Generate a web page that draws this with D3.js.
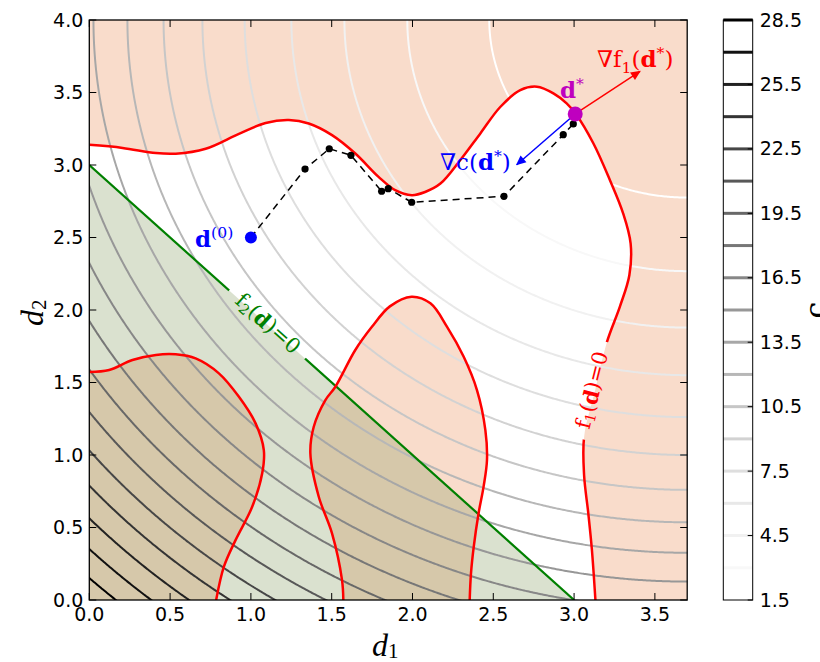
<!DOCTYPE html>
<html><head><meta charset="utf-8">
<script src="https://cdn.jsdelivr.net/npm/d3@7"></script>
<style>body{margin:0;background:#fff}</style>
</head><body>
<svg id="c" width="820" height="662"></svg>
<script>
// ---------- data ----------
const xTicks = [0.0, 0.5, 1.0, 1.5, 2.0, 2.5, 3.0, 3.5];
const yTicks = [0.0, 0.5, 1.0, 1.5, 2.0, 2.5, 3.0, 3.5, 4.0];
const levels = [1.5, 3.0, 4.5, 6.0, 7.5, 9.0, 10.5, 12.0, 13.5, 15.0, 16.5, 18.0, 19.5, 21.0, 22.5, 24.0, 25.5, 27.0, 28.5];
const cbTicks = [1.5, 4.5, 7.5, 10.5, 13.5, 16.5, 19.5, 22.5, 25.5, 28.5];
const objCenter = [3.7, 4.0];   // c(d) = |d - objCenter|^2

// f1(d)=0 curve components
const f1Top = [[0,3.139],[0.206,3.118],[0.412,3.082],[0.535,3.078],[0.72,3.112],[0.926,3.215],[1.091,3.290],[1.235,3.310],[1.358,3.286],[1.502,3.206],[1.646,3.079],[1.79,2.918],[1.893,2.826],[1.996,2.792],[2.078,2.814],[2.173,2.872],[2.296,3.034],[2.42,3.218],[2.543,3.400],[2.667,3.516],[2.77,3.540],[2.872,3.494],[2.954,3.425],[3.012,3.350],[3.119,3.150],[3.222,2.895],[3.304,2.665],[3.350,2.458],[3.342,2.240],[3.284,2.025],[3.202,1.775],[3.130,1.445],[3.062,1.125],[3.062,0.860],[3.088,0.598],[3.110,0.350],[3.132,0]];
const f1BottomLeft = [[0,1.572],[0.123,1.586],[0.267,1.655],[0.412,1.690],[0.535,1.694],[0.658,1.666],[0.802,1.563],[0.926,1.401],[1.029,1.218],[1.080,1.034],[1.070,0.874],[1.008,0.643],[0.905,0.413],[0.833,0.230],[0.785,0]];
const f1Middle = [[1.572,0],[1.564,0.137],[1.502,0.460],[1.420,0.712],[1.368,1.011],[1.389,1.195],[1.461,1.379],[1.523,1.471],[1.646,1.724],[1.749,1.884],[1.860,2.025],[1.994,2.092],[2.111,2.046],[2.214,1.884],[2.317,1.677],[2.399,1.448],[2.451,1.172],[2.461,0.965],[2.440,0.782],[2.409,0.598],[2.379,0.367],[2.362,0.184],[2.354,0]];
// f2(d)=0 line
const f2Line = [[0,3.0],[3.0,0]];
// optimisation path
const pathPts = [[1.0,2.5],[1.335,2.972],[1.485,3.112],[1.619,3.067],[1.809,2.819],[1.850,2.837],[1.995,2.743],[2.566,2.784],[2.933,3.209],[2.995,3.283],[3.007,3.352]];
const d0 = [1.0, 2.5];
const dStar = [3.007, 3.352];
const gradF1Tip = [3.408, 3.646];
const gradCTip = [2.645, 3.002];

// ---------- layout ----------
const W = 820, H = 662;
const X0 = 89.3, X1 = 687.2, Y0 = 600, Y1 = 20;
const x = d3.scaleLinear([0, 3.7], [X0, X1]);
const y = d3.scaleLinear([0, 4.0], [Y0, Y1]);
const svg = d3.select('#c');
const defs = svg.append('defs');

defs.append('clipPath').attr('id', 'plotclip').append('rect')
  .attr('x', X0).attr('y', Y1).attr('width', X1 - X0).attr('height', Y0 - Y1);

// masks for inline labels
const f1LabelPos = [592, 390], f1LabelRot = -76;
const f2LabelPos = [268, 323.5], f2LabelRot = 42;
function mkMask(id, pos, rot, w, h) {
  const m = defs.append('mask').attr('id', id).attr('maskUnits', 'userSpaceOnUse')
    .attr('x', 0).attr('y', 0).attr('width', W).attr('height', H);
  m.append('rect').attr('x', 0).attr('y', 0).attr('width', W).attr('height', H).attr('fill', '#fff');
  m.append('rect').attr('x', -w / 2).attr('y', -h / 2).attr('width', w).attr('height', h)
    .attr('fill', '#000').attr('transform', `translate(${pos[0]},${pos[1]}) rotate(${rot})`);
}
mkMask('m1', f1LabelPos, f1LabelRot, 100, 30);
mkMask('m2', f2LabelPos, f2LabelRot, 102, 30);

// arrow markers
function mkArrow(id, color) {
  defs.append('marker').attr('id', id).attr('viewBox', '0 -5 10 10')
    .attr('refX', 9).attr('refY', 0).attr('markerWidth', 13).attr('markerHeight', 10)
    .attr('markerUnits', 'userSpaceOnUse').attr('orient', 'auto')
    .append('path').attr('d', 'M0,-4.5L10,0L0,4.5Z').attr('fill', color);
}
mkArrow('arR', '#ff0000');
mkArrow('arB', '#0000ff');

const plot = svg.append('g').attr('clip-path', 'url(#plotclip)');
plot.append('rect').attr('x', X0).attr('y', Y1).attr('width', X1 - X0).attr('height', Y0 - Y1).attr('fill', '#fff');

const line = d3.line().x(d => x(d[0])).y(d => y(d[1]));
const sline = d3.line().x(d => x(d[0])).y(d => y(d[1])).curve(d3.curveCatmullRom.alpha(0.5));

// pink infeasible regions of f1
const pink = '#f9dccb';
plot.append('path').attr('fill', pink)
  .attr('d', sline(f1Top) + 'L' + x(3.7) + ',' + y(0) + 'L' + x(3.7) + ',' + y(4) + 'L' + x(0) + ',' + y(4) + 'Z');
plot.append('path').attr('fill', pink)
  .attr('d', sline(f1BottomLeft) + 'L' + x(0) + ',' + y(0) + 'Z');
plot.append('path').attr('fill', pink)
  .attr('d', sline(f1Middle) + 'Z');
// green region of f2
plot.append('path').attr('fill', 'rgb(126,150,91)').attr('fill-opacity', 0.29)
  .attr('d', line([[0, 0], f2Line[0], f2Line[1]]) + 'Z');

// objective contours via d3.contours
const step = 0.01, gx0 = -0.1, gy0 = -0.1;
const nx = Math.round((3.8 - gx0) / step) + 1, ny = Math.round((4.1 - gy0) / step) + 1;
const vals = new Float64Array(nx * ny);
for (let j = 0; j < ny; j++) for (let i = 0; i < nx; i++) {
  const a = gx0 + i * step - objCenter[0], b = gy0 + j * step - objCenter[1];
  vals[j * nx + i] = a * a + b * b;
}
const conts = d3.contours().size([nx, ny]).thresholds(levels)(vals);
const proj = d3.geoTransform({
  point: function (px, py) {
    this.stream.point(x(gx0 + (px - 0.5) * step), y(gy0 + (py - 0.5) * step));
  }
});
const gpath = d3.geoPath(proj);
const grey = v => d3.interpolateGreys((v - levels[0]) / (levels[levels.length - 1] - levels[0]));
plot.append('g').selectAll('path').data(conts).join('path')
  .attr('d', gpath).attr('fill', 'none')
  .attr('stroke', d => grey(d.value)).attr('stroke-width', 2);

// constraint boundaries
plot.append('path').attr('d', line(f2Line)).attr('fill', 'none')
  .attr('stroke', '#008000').attr('stroke-width', 2.2).attr('mask', 'url(#m2)');
const redG = plot.append('g').attr('mask', 'url(#m1)');
[f1Top, f1BottomLeft, f1Middle].forEach(c => {
  redG.append('path').attr('d', sline(c)).attr('fill', 'none')
    .attr('stroke', '#ff0000').attr('stroke-width', 2.5);
});

// optimisation path
plot.append('path').attr('d', line(pathPts)).attr('fill', 'none')
  .attr('stroke', '#000').attr('stroke-width', 1.5).attr('stroke-dasharray', '7,5');
plot.append('g').selectAll('circle').data(pathPts.slice(1, -1)).join('circle')
  .attr('cx', d => x(d[0])).attr('cy', d => y(d[1])).attr('r', 3.6).attr('fill', '#000');

// gradient arrows
plot.append('line').attr('x1', x(dStar[0])).attr('y1', y(dStar[1]))
  .attr('x2', x(gradF1Tip[0])).attr('y2', y(gradF1Tip[1]))
  .attr('stroke', '#ff0000').attr('stroke-width', 1.5).attr('marker-end', 'url(#arR)');
plot.append('line').attr('x1', x(dStar[0])).attr('y1', y(dStar[1]))
  .attr('x2', x(gradCTip[0])).attr('y2', y(gradCTip[1]))
  .attr('stroke', '#0000ff').attr('stroke-width', 1.5).attr('marker-end', 'url(#arB)');

plot.append('circle').attr('cx', x(d0[0])).attr('cy', y(d0[1])).attr('r', 6).attr('fill', '#0000ff');
plot.append('circle').attr('cx', x(dStar[0])).attr('cy', y(dStar[1])).attr('r', 7.5).attr('fill', '#bf00bf');

// ---------- math labels ----------
const serif = '"DejaVu Serif", "Liberation Serif", serif';
function mathLabel(g, parts, color, size) {
  const t = g.append('text').attr('fill', color).attr('font-family', serif).attr('font-size', size);
  parts.forEach(p => {
    const s = t.append('tspan').text(p.t);
    if (p.b) s.attr('font-weight', 'bold');
    if (p.sub) s.attr('font-size', size * 0.68).attr('dy', size * 0.25);
    if (p.sup) s.attr('font-size', size * 0.68).attr('dy', -size * 0.4);
    if (p.back) s.attr('dy', p.back);
  });
  return t;
}
const LS = 23;
mathLabel(svg, [{t: '∇f'}, {t: '1', sub: 1}, {t: '(', back: -LS * 0.25}, {t: 'd', b: 1}, {t: '*', sup: 1}, {t: ')', back: LS * 0.4}], '#ff0000', LS)
  .attr('x', 597).attr('y', 67);
mathLabel(svg, [{t: 'd', b: 1}, {t: '*', sup: 1}], '#bf00bf', LS).attr('x', 560).attr('y', 98);
mathLabel(svg, [{t: '∇c('}, {t: 'd', b: 1}, {t: '*', sup: 1}, {t: ')', back: LS * 0.4}], '#0000ff', LS)
  .attr('x', 440).attr('y', 170);
mathLabel(svg, [{t: 'd', b: 1}, {t: '(0)', sup: 1}], '#0000ff', LS).attr('x', 195).attr('y', 247);
const IS = 21;
mathLabel(svg, [{t: 'f'}, {t: '2', sub: 1}, {t: '(', back: -IS * 0.25}, {t: 'd', b: 1}, {t: ')=0'}], '#008000', IS)
  .attr('text-anchor', 'middle').attr('dominant-baseline', 'central')
  .attr('transform', `translate(${f2LabelPos[0]},${f2LabelPos[1]}) rotate(${f2LabelRot})`);
mathLabel(svg, [{t: 'f'}, {t: '1', sub: 1}, {t: '(', back: -IS * 0.25}, {t: 'd', b: 1}, {t: ')=0'}], '#ff0000', IS)
  .attr('text-anchor', 'middle').attr('dominant-baseline', 'central')
  .attr('transform', `translate(${f1LabelPos[0]},${f1LabelPos[1]}) rotate(${f1LabelRot})`);

// ---------- axes ----------
const axG = svg.append('g');
const tl = 7, tickFont = '"DejaVu Sans", sans-serif', tfs = 19;
xTicks.forEach(v => {
  axG.append('line').attr('x1', x(v)).attr('x2', x(v)).attr('y1', Y0).attr('y2', Y0 - tl).attr('stroke', '#000');
  axG.append('line').attr('x1', x(v)).attr('x2', x(v)).attr('y1', Y1).attr('y2', Y1 + tl).attr('stroke', '#000');
  axG.append('text').attr('x', x(v)).attr('y', Y0 + 21).attr('text-anchor', 'middle')
    .attr('font-family', tickFont).attr('font-size', tfs).text(v.toFixed(1));
});
yTicks.forEach(v => {
  axG.append('line').attr('x1', X0).attr('x2', X0 + tl).attr('y1', y(v)).attr('y2', y(v)).attr('stroke', '#000');
  axG.append('line').attr('x1', X1).attr('x2', X1 - tl).attr('y1', y(v)).attr('y2', y(v)).attr('stroke', '#000');
  axG.append('text').attr('x', X0 - 6).attr('y', y(v) + 6.5).attr('text-anchor', 'end')
    .attr('font-family', tickFont).attr('font-size', tfs).text(v.toFixed(1));
});
axG.append('rect').attr('x', X0).attr('y', Y1).attr('width', X1 - X0).attr('height', Y0 - Y1)
  .attr('fill', 'none').attr('stroke', '#000').attr('stroke-width', 1.3);

const axLab = '"Liberation Serif", "DejaVu Serif", serif';
const xl = svg.append('text').attr('x', 372).attr('y', 656).attr('font-family', axLab).attr('font-size', 32);
xl.append('tspan').attr('font-style', 'italic').text('d');
xl.append('tspan').attr('font-size', 21).attr('dy', 2).text('1');
const yl = svg.append('text').attr('transform', 'translate(43,326) rotate(-90)').attr('font-family', axLab).attr('font-size', 32);
yl.append('tspan').attr('font-style', 'italic').text('d');
yl.append('tspan').attr('font-size', 21).attr('dy', 3).text('2');

// ---------- colorbar ----------
const CX0 = 723.3, CX1 = 752.7;
const cy = d3.scaleLinear([levels[0], levels[levels.length - 1]], [Y0, Y1]);
const cb = svg.append('g');
cb.append('rect').attr('x', CX0).attr('y', Y1).attr('width', CX1 - CX0).attr('height', Y0 - Y1).attr('fill', '#fff');
cb.selectAll('line.lv').data(levels).join('line').attr('class', 'lv')
  .attr('x1', CX0).attr('x2', CX1).attr('y1', d => cy(d)).attr('y2', d => cy(d))
  .attr('stroke', d => grey(d)).attr('stroke-width', 3);
cbTicks.forEach(v => {
  cb.append('line').attr('x1', CX1).attr('x2', CX1 - 5).attr('y1', cy(v)).attr('y2', cy(v)).attr('stroke', '#000');
  cb.append('text').attr('x', CX1 + 7).attr('y', cy(v) + 6.5).attr('font-family', tickFont).attr('font-size', tfs).text(v.toFixed(1));
});
cb.append('rect').attr('x', CX0).attr('y', Y1).attr('width', CX1 - CX0).attr('height', Y0 - Y1)
  .attr('fill', 'none').attr('stroke', '#000').attr('stroke-width', 1);
svg.append('text').attr('transform', 'translate(826,310) rotate(-90)').attr('text-anchor', 'middle')
  .attr('font-family', serif).attr('font-size', 30).text('c');
</script>
</body></html>
